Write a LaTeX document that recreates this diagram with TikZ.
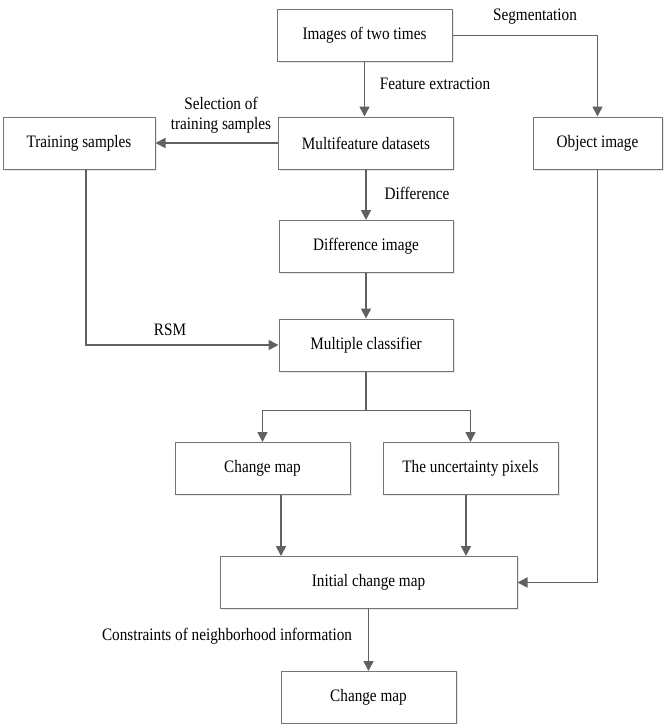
\documentclass[tikz,border=0pt]{standalone}
\usepackage{fontspec}
\setmainfont{Liberation Serif}[FakeStretch=0.87]
\usetikzlibrary{arrows.meta,positioning,shadows}

\begin{document}
\begin{tikzpicture}[x=1pt,y=-1pt,
  box/.style={draw=black!55,line width=1pt,fill=white,minimum height=52pt,inner sep=0pt,
    drop shadow={opacity=0.18,shadow xshift=1.5pt,shadow yshift=-1.5pt},
    font=\fontsize{17.5}{20}\selectfont},
  lbl/.style={inner sep=0pt,align=center,font=\fontsize{17.5}{20}\selectfont},
  plain/.style={draw=black!62,line width=1.6pt},
  link/.style={plain,-{Triangle[length=10pt,width=10pt]}}]
  \useasboundingbox (0,0) rectangle (666,724);

  % boxes
  \node[box,minimum width=175pt] (images) at (364.5,35.5) {Images of two times};
  \node[box,minimum width=175pt] (multi) at (366,143) {Multifeature datasets};
  \node[box,minimum width=152pt] (training) at (79,143) {Training samples};
  \node[box,minimum width=129pt] (object) at (597.5,143) {Object image};
  \node[box,minimum width=174pt] (diff) at (366,246.5) {Difference image};
  \node[box,minimum width=174pt] (mc) at (366,345) {Multiple classifier};
  \node[box,minimum width=175pt] (cmap) at (262.5,468.5) {Change map};
  \node[box,minimum width=175pt] (unc) at (470.5,468.5) {The uncertainty pixels};
  \node[box,minimum width=297pt] (initial) at (368.5,582.5) {Initial change map};
  \node[box,minimum width=175pt] (final) at (368.5,697.5) {Change map};

  % labels
  \node[lbl] (seg) at (535,17) {Segmentation};
  \node[lbl] (feat) at (435,84) {Feature extraction};
  \node[lbl] (sel) at (221,115) {Selection of\\training samples};
  \node[lbl] (dif) at (417,193) {Difference};
  \node[lbl] (rsm) at (170,330) {RSM};
  \node[lbl] (cons) at (227,636) {Constraints of neighborhood information};

  % connectors
  \draw[link] (images.south) -- (images.south |- multi.north);
  \draw[link] (images.east) -| (object.north);
  \draw[link] (multi.west) -- (training.east);
  \draw[link] (multi.south) -- (diff.north);
  \draw[link] (diff.south) -- (mc.north);
  \draw[link] ([xshift=7pt]training.south) |- (mc.west);
  \draw[plain] (mc.south) -- ++(0,39) coordinate (split);
  \draw[link] (split) -| (cmap.north);
  \draw[link] (split) -| (unc.north);
  \coordinate (cmapout) at ([xshift=18.5pt]cmap.south);
  \coordinate (uncout) at ([xshift=-4.5pt]unc.south);
  \draw[link] (cmapout) -- (cmapout |- initial.north);
  \draw[link] (uncout) -- (uncout |- initial.north);
  \draw[link] (object.south) |- (initial.east);
  \draw[link] (initial.south) -- (final.north);
\end{tikzpicture}
\end{document}
